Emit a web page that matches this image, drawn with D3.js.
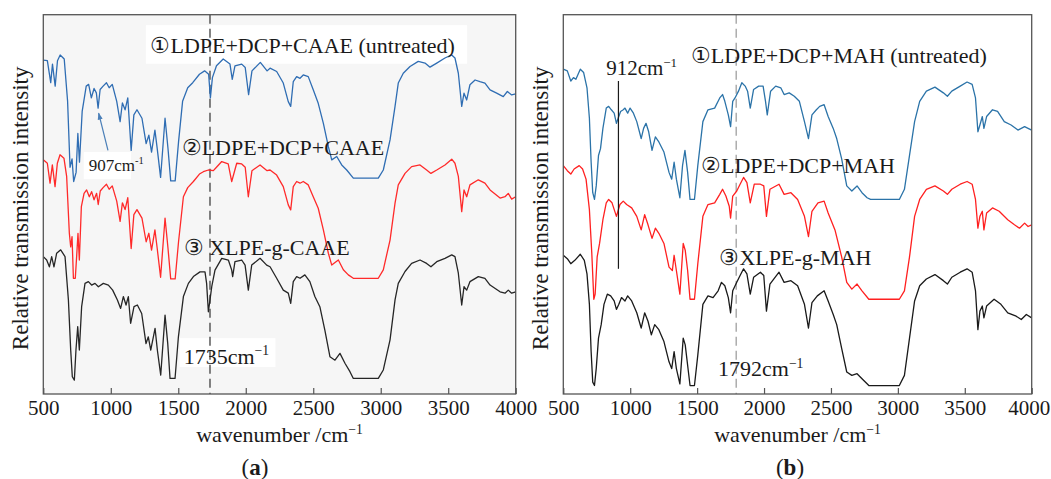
<!DOCTYPE html>
<html lang="en">
<head>
<meta charset="UTF-8">
<title>FTIR spectra</title>
<script src="https://d3js.org/d3.v7.min.js"></script>
<style>
  body { margin: 0; background: #fff; }
  text { font-family: "Liberation Serif", "Times New Roman", serif; fill: #1a1a1a; }
</style>
</head>
<body>
<svg id="chart" width="1051" height="479"></svg>
<script>
// wavenumber axis
const xTicks = [500, 1000, 1500, 2000, 2500, 3000, 3500, 4000];

// panel (a): CAAE, [wavenumber, relative intensity]
const caaeUntreated = [[500,99.7],[530,99.5],[555,93.0],[568,98.5],[588,92.0],[605,99.5],[625,101.2],[655,100.0],[680,87.5],[698,68.0],[713,70.5],[725,63.8],[743,66.5],[756,78.0],[768,69.5],[788,84.5],[818,92.0],[836,92.5],[856,88.5],[876,91.3],[893,90.0],[906,85.5],[921,91.0],[943,92.0],[968,93.0],[988,91.5],[1011,92.5],[1044,87.5],[1069,81.5],[1086,87.0],[1106,85.0],[1126,88.5],[1151,73.0],[1171,83.5],[1194,85.0],[1231,82.5],[1262,75.0],[1282,77.5],[1302,72.5],[1327,79.0],[1344,73.5],[1369,65.0],[1402,82.5],[1424,73.5],[1444,64.0],[1477,64.0],[1502,75.5],[1532,87.5],[1570,91.5],[1607,93.0],[1657,95.5],[1695,96.5],[1725,95.5],[1738,88.5],[1753,94.5],[1783,98.0],[1833,100.0],[1883,98.5],[1900,94.0],[1920,98.0],[1970,98.5],[1996,97.5],[2021,89.5],[2046,96.5],[2108,99.0],[2158,96.5],[2180,97.3],[2229,96.3],[2278,92.9],[2315,87.4],[2333,86.0],[2352,93.3],[2377,94.8],[2402,94.3],[2426,95.3],[2463,94.8],[2500,90.9],[2537,86.9],[2575,81.0],[2612,74.1],[2637,70.2],[2674,71.2],[2711,68.7],[2748,67.2],[2797,64.8],[2982,64.8],[3019,67.2],[3069,76.1],[3106,86.0],[3130,92.9],[3167,95.8],[3217,97.8],[3278,99.3],[3328,98.8],[3365,97.6],[3415,98.8],[3476,100.3],[3526,101.2],[3550,100.3],[3575,95.8],[3600,86.0],[3617,89.9],[3637,87.9],[3661,92.4],[3699,93.8],[3735,93.3],[3772,92.9],[3810,90.9],[3859,89.9],[3908,88.9],[3938,90.4],[3970,89.4],[4000,89.7]];
const caaeMixed = [[500,70.2],[530,69.2],[550,63.3],[567,68.7],[587,62.3],[604,69.2],[624,71.7],[653,70.7],[673,65.3],[693,48.5],[703,44.5],[713,47.5],[723,35.2],[737,35.2],[747,41.6],[757,48.5],[767,40.6],[782,56.4],[802,60.3],[821,61.3],[841,59.3],[858,60.8],[876,58.4],[895,60.3],[907,57.0],[922,61.0],[943,62.0],[968,63.0],[988,61.5],[1011,62.5],[1044,58.0],[1069,52.0],[1086,57.5],[1106,55.5],[1126,59.0],[1151,44.0],[1171,54.0],[1194,55.5],[1231,53.0],[1262,46.0],[1282,48.5],[1302,43.5],[1327,49.5],[1344,44.0],[1369,35.5],[1402,53.0],[1424,44.0],[1444,35.0],[1477,35.0],[1502,46.0],[1538,59.3],[1570,62.0],[1612,63.8],[1657,66.0],[1686,66.7],[1723,67.2],[1760,67.0],[1783,68.0],[1822,69.7],[1870,69.0],[1896,63.8],[1933,69.2],[1970,69.0],[1996,68.0],[2019,59.3],[2046,67.0],[2106,68.7],[2158,67.0],[2180,67.2],[2229,65.7],[2278,62.3],[2315,56.9],[2333,55.4],[2352,62.3],[2377,63.8],[2402,63.3],[2426,63.8],[2463,62.8],[2500,59.3],[2537,55.9],[2575,49.5],[2612,42.6],[2637,39.1],[2686,40.6],[2723,37.7],[2760,36.2],[2797,35.2],[2982,35.2],[3019,37.7],[3069,46.5],[3106,57.4],[3130,62.8],[3180,66.2],[3229,68.2],[3291,68.7],[3340,67.2],[3372,66.2],[3415,67.2],[3476,68.7],[3526,70.4],[3550,69.2],[3575,65.3],[3600,54.9],[3617,61.3],[3637,59.3],[3661,62.8],[3723,64.3],[3772,63.3],[3810,61.3],[3884,58.9],[3921,59.3],[3945,60.3],[3970,58.6],[4000,59.3]];
const caaeGrafted = [[500,41.6],[525,40.6],[545,38.6],[562,41.6],[579,38.6],[599,42.6],[629,43.6],[661,41.6],[686,28.8],[703,14.0],[715,6.1],[730,5.1],[742,14.0],[755,20.9],[767,14.0],[784,26.8],[809,33.7],[834,34.2],[858,33.2],[883,33.7],[908,32.7],[945,33.7],[982,33.2],[1014,31.7],[1049,28.8],[1073,26.3],[1093,29.8],[1113,27.3],[1130,29.8],[1147,21.9],[1172,26.8],[1197,27.3],[1229,24.8],[1261,15.9],[1278,17.9],[1296,14.0],[1328,20.4],[1345,14.0],[1370,6.6],[1402,24.3],[1422,15.9],[1439,5.6],[1476,5.6],[1501,17.9],[1538,29.8],[1575,33.7],[1612,35.7],[1661,37.1],[1698,37.1],[1710,33.7],[1723,25.3],[1735,28.8],[1748,32.7],[1772,37.6],[1822,41.1],[1871,40.6],[1896,37.6],[1903,35.7],[1920,40.1],[1970,40.6],[1995,39.1],[2019,31.7],[2044,39.1],[2106,41.1],[2155,39.1],[2180,38.6],[2229,35.2],[2278,31.7],[2315,30.8],[2333,27.8],[2352,34.2],[2377,35.7],[2402,35.2],[2438,36.2],[2475,34.2],[2512,29.8],[2549,26.8],[2586,19.9],[2624,12.0],[2661,11.0],[2698,13.0],[2735,10.1],[2772,7.6],[2797,5.6],[2982,5.6],[3019,8.1],[3069,17.0],[3106,28.8],[3130,33.7],[3180,37.2],[3229,39.6],[3291,40.6],[3340,39.6],[3372,38.6],[3415,40.1],[3476,41.1],[3526,42.1],[3550,41.6],[3575,36.7],[3600,27.3],[3617,32.7],[3637,31.7],[3661,34.2],[3723,35.7],[3772,35.2],[3810,33.2],[3884,31.2],[3921,30.8],[3945,31.7],[3970,30.8],[4000,31.2]];

// panel (b): MAH
const mahUntreated = [[500,97.0],[530,96.5],[556,93.5],[576,94.5],[594,94.0],[627,97.0],[652,96.0],[677,91.5],[695,82.5],[708,69.5],[720,60.5],[733,58.5],[746,62.5],[763,71.5],[778,73.5],[796,79.5],[821,85.5],[839,86.0],[859,85.0],[880,84.0],[897,81.0],[910,82.5],[928,84.5],[948,85.0],[961,85.5],[981,84.0],[999,85.5],[1024,84.0],[1049,81.5],[1082,76.5],[1100,79.5],[1118,81.0],[1138,78.5],[1163,73.0],[1188,77.0],[1214,75.5],[1252,72.5],[1290,66.5],[1310,64.5],[1328,69.5],[1345,64.5],[1371,59.0],[1391,68.5],[1409,73.0],[1429,66.5],[1447,58.5],[1480,58.5],[1505,68.5],[1543,81.5],[1581,85.0],[1631,85.5],[1669,88.5],[1690,89.5],[1707,87.5],[1733,83.5],[1750,80.0],[1766,87.5],[1783,88.5],[1809,90.5],[1834,93.0],[1859,92.0],[1877,90.5],[1897,85.5],[1922,91.0],[1960,92.0],[1993,92.0],[2011,87.5],[2024,83.5],[2049,90.5],[2087,92.0],[2125,91.5],[2150,89.5],[2188,90.0],[2226,89.0],[2264,87.5],[2302,81.5],[2332,76.5],[2358,83.5],[2391,85.0],[2416,86.0],[2449,86.5],[2479,83.0],[2517,79.5],[2543,76.5],[2580,70.5],[2618,62.5],[2656,61.0],[2695,62.5],[2732,60.5],[2770,59.0],[2796,58.5],[3011,58.5],[3049,61.5],[3087,71.5],[3125,81.5],[3163,87.5],[3213,90.5],[3277,91.7],[3340,90.0],[3370,89.0],[3403,90.5],[3466,92.0],[3517,93.2],[3555,92.5],[3580,88.5],[3598,78.5],[3613,80.5],[3631,83.0],[3643,79.5],[3663,83.0],[3707,85.0],[3745,84.5],[3795,81.5],[3846,80.5],[3897,79.0],[3947,80.0],[3973,79.5],[4000,79.0]];
const mahMixed = [[500,68.5],[530,67.0],[556,66.0],[581,67.5],[619,68.5],[644,67.5],[670,64.5],[695,55.5],[713,42.5],[728,29.0],[738,30.5],[753,41.5],[771,45.5],[796,52.5],[821,57.5],[839,58.5],[864,57.5],[897,53.5],[923,57.0],[948,58.0],[973,57.0],[1011,56.0],[1049,53.5],[1082,49.5],[1108,54.0],[1133,51.0],[1163,47.0],[1188,50.0],[1214,48.5],[1252,45.5],[1290,38.5],[1315,37.5],[1328,42.0],[1345,37.5],[1371,30.5],[1396,45.5],[1411,43.5],[1429,37.5],[1447,29.0],[1480,29.0],[1505,39.5],[1543,53.5],[1581,57.0],[1631,57.5],[1669,60.0],[1690,61.5],[1715,59.5],[1740,56.5],[1750,53.0],[1766,59.5],[1796,61.0],[1821,63.0],[1847,65.0],[1872,63.5],[1897,57.5],[1927,63.0],[1973,63.0],[1998,62.5],[2018,53.5],[2044,61.5],[2112,63.0],[2150,60.0],[2201,60.5],[2251,58.5],[2302,53.5],[2332,47.5],[2358,55.0],[2403,57.5],[2449,58.0],[2479,54.5],[2530,49.5],[2580,41.5],[2618,34.0],[2656,32.0],[2695,33.5],[2732,31.5],[2783,29.0],[3011,29.0],[3049,31.5],[3087,41.5],[3125,53.5],[3163,58.5],[3213,61.5],[3277,62.5],[3340,61.0],[3370,60.0],[3403,61.5],[3466,63.0],[3517,63.8],[3555,63.0],[3580,58.5],[3598,50.0],[3613,53.5],[3631,55.0],[3643,49.5],[3663,54.5],[3707,56.0],[3757,55.0],[3821,52.5],[3871,51.0],[3909,50.0],[3947,51.5],[3973,50.5],[4000,51.0]];
const mahGrafted = [[500,42.0],[530,41.0],[556,39.5],[586,40.5],[627,42.3],[657,40.5],[677,36.5],[695,27.5],[708,13.5],[720,4.5],[733,3.5],[746,8.5],[763,17.5],[783,21.5],[804,27.5],[829,30.5],[854,30.0],[880,28.5],[897,26.0],[915,27.5],[935,29.5],[961,28.5],[981,30.0],[1011,28.5],[1049,25.0],[1082,20.5],[1108,25.0],[1133,22.5],[1158,18.5],[1183,21.5],[1214,20.0],[1252,16.5],[1290,10.5],[1310,8.5],[1328,13.5],[1345,8.5],[1371,4.0],[1396,17.5],[1411,15.5],[1429,9.5],[1447,3.5],[1480,3.5],[1505,12.5],[1543,27.5],[1581,30.0],[1619,29.5],[1657,31.5],[1682,34.0],[1707,33.0],[1733,29.5],[1750,25.0],[1766,31.5],[1796,34.0],[1821,36.0],[1847,38.0],[1872,36.5],[1897,30.5],[1922,35.5],[1973,37.0],[1998,36.0],[2018,25.5],[2044,33.5],[2112,37.0],[2150,34.0],[2201,34.5],[2251,33.0],[2302,27.5],[2332,20.5],[2358,28.0],[2398,30.0],[2449,31.5],[2479,28.5],[2517,24.5],[2543,21.5],[2580,14.5],[2618,7.5],[2656,6.5],[2695,7.0],[2732,5.5],[2783,3.5],[3011,3.5],[3049,6.5],[3087,17.5],[3125,28.5],[3163,33.0],[3213,35.0],[3277,36.3],[3340,34.5],[3370,33.5],[3403,35.5],[3466,37.0],[3517,38.0],[3555,37.0],[3580,31.5],[3598,20.0],[3613,25.5],[3631,27.0],[3643,23.5],[3663,27.0],[3719,29.0],[3770,27.5],[3821,25.0],[3884,24.0],[3922,23.0],[3960,24.5],[4000,23.5]];

const svg = d3.select("#chart");

function supLabel(sel, main, sup) {
    sel.text(main);
    sel.append("tspan").attr("font-size", "0.62em").attr("dy", "-0.62em").text(sup);
}

function drawPanel(cfg) {
    const x = d3.scaleLinear().domain([500, 4000]).range([cfg.left, cfg.right]);
    const y = d3.scaleLinear().domain([1, 113.1]).range([cfg.bottom, cfg.top]);
    const g = svg.append("g");

    g.append("rect")
        .attr("x", cfg.left).attr("y", cfg.top)
        .attr("width", cfg.right - cfg.left).attr("height", cfg.bottom - cfg.top)
        .attr("fill", cfg.bg);

    // white boxes behind some labels
    cfg.boxes.forEach(b => {
        g.append("rect")
            .attr("x", x(b[0])).attr("y", y(b[3]))
            .attr("width", x(b[1]) - x(b[0])).attr("height", y(b[2]) - y(b[3]))
            .attr("fill", "#fff");
    });

    // reference line (dashed)
    g.append("line")
        .attr("x1", x(cfg.dashAt)).attr("x2", x(cfg.dashAt))
        .attr("y1", cfg.top).attr("y2", cfg.bottom)
        .attr("stroke", cfg.dashColor).attr("stroke-width", 1.4)
        .attr("stroke-dasharray", "9,5");

    const line = d3.line().x(d => x(d[0])).y(d => y(d[1]));
    cfg.series.forEach(s => {
        g.append("path").datum(s.data)
            .attr("d", line)
            .attr("fill", "none")
            .attr("stroke", s.color)
            .attr("stroke-width", 1.3)
            .attr("stroke-linejoin", "round");
    });

    // bottom axis with inward ticks
    const axis = g.append("g").attr("transform", `translate(0,${cfg.bottom})`)
        .call(d3.axisBottom(x).tickValues(xTicks).tickFormat(d3.format("d"))
            .tickSizeInner(-6).tickSizeOuter(0).tickPadding(6));
    axis.select(".domain").remove();
    axis.selectAll("line").attr("stroke", "#555").attr("stroke-width", 1.2);
    axis.selectAll("text")
        .attr("font-family", "Liberation Serif, serif")
        .attr("font-size", 21).attr("fill", "#1a1a1a")
        .attr("dx", d => d === 4000 ? cfg.lastTickShift : 0);

    g.append("rect")
        .attr("x", cfg.left).attr("y", cfg.top)
        .attr("width", cfg.right - cfg.left).attr("height", cfg.bottom - cfg.top)
        .attr("fill", "none").attr("stroke", "#555").attr("stroke-width", 1.3);

    // axis titles
    const xl = g.append("text")
        .attr("x", (cfg.left + cfg.right) / 2).attr("y", 442)
        .attr("text-anchor", "middle").attr("font-size", 22);
    supLabel(xl, "wavenumber /cm", "\u22121");

    g.append("text")
        .attr("transform", `translate(${cfg.ylabelX},${(cfg.top + cfg.bottom) / 2 + 4}) rotate(-90)`)
        .attr("text-anchor", "middle").attr("font-size", 23)
        .text("Relative transmission intensity");

    // panel tag
    const tag = g.append("text")
        .attr("x", cfg.tagX).attr("y", 475)
        .attr("text-anchor", "middle").attr("font-size", 23);
    tag.append("tspan").text("(");
    tag.append("tspan").attr("font-weight", "bold").text(cfg.tag);
    tag.append("tspan").text(")");

    // annotations
    cfg.labels.forEach(l => {
        const t = g.append("text")
            .attr("x", x(l.wn)).attr("y", y(l.v))
            .attr("font-size", l.size).attr("fill", l.color || "#1a1a1a");
        if (l.sup) supLabel(t, l.text, l.sup); else t.text(l.text);
    });

    cfg.marks.forEach(m => {
        g.append("line")
            .attr("x1", x(m[0])).attr("y1", y(m[1]))
            .attr("x2", x(m[2])).attr("y2", y(m[3]))
            .attr("stroke", m[4]).attr("stroke-width", 1.2)
            .attr("marker-end", m[5] ? "url(#arrow)" : null);
    });
    return g;
}

svg.append("defs").append("marker")
    .attr("id", "arrow").attr("viewBox", "0 0 10 10")
    .attr("refX", 9).attr("refY", 5)
    .attr("markerWidth", 6).attr("markerHeight", 6)
    .attr("orient", "auto-start-reverse")
    .append("path").attr("d", "M0,1.5L10,5L0,8.5Z").attr("fill", "#4a7fb8");

drawPanel({
    left: 43.3, right: 515.7, top: 14.7, bottom: 394,
    bg: "#f6f6f6", ylabelX: 28, tagX: 255, tag: "a", lastTickShift: 0,
    dashAt: 1735, dashColor: "#4d4d4d",
    boxes: [[1260, 3640, 98.6, 110], [800, 1150, 64.5, 72.5], [1510, 2220, 9, 17.5]],
    series: [
        { data: caaeUntreated, color: "#2f6db3" },
        { data: caaeMixed, color: "#ff2a2a" },
        { data: caaeGrafted, color: "#262626" }
    ],
    labels: [
        { wn: 1294, v: 101.8, text: "\u2460LDPE+DCP+CAAE (untreated)", size: 22 },
        { wn: 1525, v: 71.5, text: "\u2461LDPE+DCP+CAAE", size: 22 },
        { wn: 1540, v: 42.1, text: "\u2462 XLPE-g-CAAE", size: 22 },
        { wn: 836, v: 67, text: "907cm", sup: "-1", size: 17, color: "#4a7fb8" },
        { wn: 1540, v: 10, text: "1735cm", sup: "\u22121", size: 22 }
    ],
    marks: [[979, 73, 910, 84, "#4a7fb8", true]]
});

drawPanel({
    left: 563.3, right: 1031.7, top: 14.7, bottom: 394,
    bg: "#ffffff", ylabelX: 548, tagX: 790, tag: "b", lastTickShift: -3,
    dashAt: 1792, dashColor: "#a6a6a6",
    boxes: [],
    series: [
        { data: mahUntreated, color: "#2b73a8" },
        { data: mahMixed, color: "#ff2020" },
        { data: mahGrafted, color: "#1a1a1a" }
    ],
    labels: [
        { wn: 1453, v: 98.9, text: "\u2460LDPE+DCP+MAH (untreated)", size: 22 },
        { wn: 820, v: 95.3, text: "912cm", sup: "\u22121", size: 21 },
        { wn: 1529, v: 66.3, text: "\u2461LDPE+DCP+MAH", size: 22 },
        { wn: 1667, v: 39, text: "\u2462XLPE-g-MAH", size: 22 },
        { wn: 1656, v: 6.3, text: "1792cm", sup: "\u22121", size: 22 }
    ],
    marks: [[912, 93.5, 912, 38, "#1a1a1a", false]]
});
</script>
</body>
</html>
